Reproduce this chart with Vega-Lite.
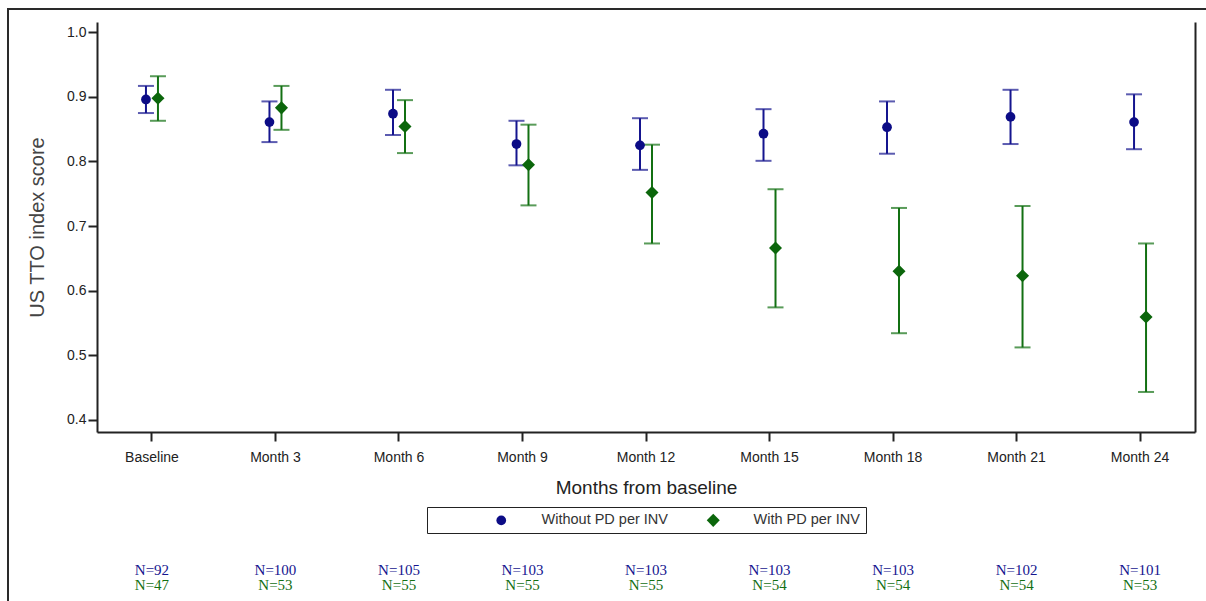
{
  "$schema": "https://vega.github.io/schema/vega-lite/v6.json",
  "width": 1202,
  "height": 596,
  "autosize": {"type": "none"},
  "padding": {"left": 8, "top": 9, "right": -4, "bottom": -4},
  "background": "white",
  "config": {
    "view": {"stroke": "#2a2a2a", "strokeWidth": 2},
    "axis": {
      "grid": false,
      "domainColor": "#222",
      "domainWidth": 2,
      "tickColor": "#222",
      "tickWidth": 2,
      "tickSize": 9,
      "labelFont": "Liberation Sans",
      "labelFontSize": 14,
      "labelColor": "#222",
      "titleFont": "Liberation Sans",
      "titleFontWeight": "normal",
      "titleColor": "#333"
    },
    "legend": {
      "labelFont": "Liberation Sans",
      "labelFontSize": 14.5,
      "labelColor": "#333",
      "symbolStrokeWidth": 0,
      "orient": "none",
      "legendX": 419,
      "legendY": 498,
      "direction": "horizontal",
      "strokeColor": "#222",
      "padding": 6,
      "titleOrient": "left",
      "titleFontSize": 1,
      "titlePadding": 31,
      "symbolOffset": 30,
      "labelOffset": 33,
      "columnPadding": 7
    }
  },
  "data": {
    "values": [
      {"month": "Baseline", "series": "Without PD per INV", "mean": 0.896, "lo": 0.875, "hi": 0.917, "nlabel": "N=92"},
      {"month": "Baseline", "series": "With PD per INV", "mean": 0.898, "lo": 0.863, "hi": 0.932, "nlabel": "N=47"},
      {"month": "Month 3", "series": "Without PD per INV", "mean": 0.861, "lo": 0.830, "hi": 0.893, "nlabel": "N=100"},
      {"month": "Month 3", "series": "With PD per INV", "mean": 0.883, "lo": 0.849, "hi": 0.917, "nlabel": "N=53"},
      {"month": "Month 6", "series": "Without PD per INV", "mean": 0.874, "lo": 0.841, "hi": 0.911, "nlabel": "N=105"},
      {"month": "Month 6", "series": "With PD per INV", "mean": 0.854, "lo": 0.813, "hi": 0.895, "nlabel": "N=55"},
      {"month": "Month 9", "series": "Without PD per INV", "mean": 0.827, "lo": 0.794, "hi": 0.863, "nlabel": "N=103"},
      {"month": "Month 9", "series": "With PD per INV", "mean": 0.795, "lo": 0.732, "hi": 0.857, "nlabel": "N=55"},
      {"month": "Month 12", "series": "Without PD per INV", "mean": 0.825, "lo": 0.787, "hi": 0.867, "nlabel": "N=103"},
      {"month": "Month 12", "series": "With PD per INV", "mean": 0.752, "lo": 0.673, "hi": 0.826, "nlabel": "N=55"},
      {"month": "Month 15", "series": "Without PD per INV", "mean": 0.843, "lo": 0.801, "hi": 0.881, "nlabel": "N=103"},
      {"month": "Month 15", "series": "With PD per INV", "mean": 0.666, "lo": 0.574, "hi": 0.757, "nlabel": "N=54"},
      {"month": "Month 18", "series": "Without PD per INV", "mean": 0.853, "lo": 0.812, "hi": 0.893, "nlabel": "N=103"},
      {"month": "Month 18", "series": "With PD per INV", "mean": 0.630, "lo": 0.534, "hi": 0.728, "nlabel": "N=54"},
      {"month": "Month 21", "series": "Without PD per INV", "mean": 0.869, "lo": 0.827, "hi": 0.911, "nlabel": "N=102"},
      {"month": "Month 21", "series": "With PD per INV", "mean": 0.623, "lo": 0.512, "hi": 0.731, "nlabel": "N=54"},
      {"month": "Month 24", "series": "Without PD per INV", "mean": 0.861, "lo": 0.819, "hi": 0.904, "nlabel": "N=101"},
      {"month": "Month 24", "series": "With PD per INV", "mean": 0.559, "lo": 0.443, "hi": 0.673, "nlabel": "N=53"}
    ]
  },
  "layer": [
    {
      "layer": [
        {
          "mark": {"type": "rule", "strokeWidth": 2},
          "encoding": {
            "x": {
              "field": "month", "type": "ordinal",
              "sort": ["Baseline", "Month 3", "Month 6", "Month 9", "Month 12", "Month 15", "Month 18", "Month 21", "Month 24"],
              "scale": {"type": "band", "range": [89, 1187], "paddingInner": 0.5, "paddingOuter": 0.195},
              "axis": {"title": "Months from baseline", "titleFontSize": 19, "titlePadding": 14, "titleColor": "#222", "labelAngle": 0, "labelPadding": 9, "offset": -173}
            },
            "xOffset": {
              "field": "series", "type": "nominal",
              "scale": {"type": "point", "domain": ["Without PD per INV", "With PD per INV"], "range": [24.875, 36.875], "padding": 0}
            },
            "y": {
              "field": "lo", "type": "quantitative",
              "scale": {"domain": [0.381, 1.016], "range": [423, 13], "nice": false, "zero": false},
              "axis": {"orient": "left", "offset": -89, "values": [0.4, 0.5, 0.6, 0.7, 0.8, 0.9, 1.0], "format": ".1f", "labelPadding": 2, "title": "US TTO index score", "titleFontSize": 20, "titlePadding": 19, "titleColor": "#444"}
            },
            "y2": {"field": "hi"},
            "stroke": {
              "field": "series", "type": "nominal",
              "scale": {"domain": ["With PD per INV", "Without PD per INV"], "range": ["#137013", "#15158f"]},
              "legend": null
            }
          }
        },
        {
          "mark": {"type": "tick", "size": 16, "thickness": 2, "orient": "horizontal"},
          "encoding": {
            "x": {"field": "month", "type": "ordinal", "sort": ["Baseline", "Month 3", "Month 6", "Month 9", "Month 12", "Month 15", "Month 18", "Month 21", "Month 24"]},
            "xOffset": {"field": "series", "type": "nominal"},
            "y": {"field": "hi", "type": "quantitative", "axis": {"orient": "right", "offset": -15, "ticks": false, "labels": false, "title": null, "domain": true}},
            "fill": {"field": "series", "type": "nominal", "scale": {"domain": ["With PD per INV", "Without PD per INV"], "range": ["#137013", "#15158f"]}, "legend": null}
          }
        },
        {
          "mark": {"type": "tick", "size": 16, "thickness": 2, "orient": "horizontal"},
          "encoding": {
            "x": {"field": "month", "type": "ordinal", "sort": ["Baseline", "Month 3", "Month 6", "Month 9", "Month 12", "Month 15", "Month 18", "Month 21", "Month 24"]},
            "xOffset": {"field": "series", "type": "nominal"},
            "y": {"field": "lo", "type": "quantitative", "axis": null},
            "fill": {"field": "series", "type": "nominal", "legend": null}
          }
        },
        {
          "mark": {"type": "point", "filled": true, "opacity": 1},
          "encoding": {
            "x": {"field": "month", "type": "ordinal", "sort": ["Baseline", "Month 3", "Month 6", "Month 9", "Month 12", "Month 15", "Month 18", "Month 21", "Month 24"]},
            "xOffset": {"field": "series", "type": "nominal"},
            "y": {"field": "mean", "type": "quantitative", "axis": null},
            "color": {
              "field": "series", "type": "nominal",
              "scale": {"domain": ["Without PD per INV", "With PD per INV"], "range": ["#0c0c86", "#0b660b"]},
              "legend": {"title": " "}
            },
            "shape": {
              "field": "series", "type": "nominal",
              "scale": {"domain": ["Without PD per INV", "With PD per INV"], "range": ["circle", "diamond"]},
              "legend": {"title": " "}
            },
            "size": {
              "field": "series", "type": "nominal",
              "scale": {"domain": ["Without PD per INV", "With PD per INV"], "range": [95, 170]},
              "legend": {"title": " "}
            }
          }
        }
      ]
    },
    {
      "mark": {"type": "text", "font": "Liberation Serif", "fontSize": 15, "baseline": "middle"},
      "encoding": {
        "x": {"field": "month", "type": "ordinal", "sort": ["Baseline", "Month 3", "Month 6", "Month 9", "Month 12", "Month 15", "Month 18", "Month 21", "Month 24"]},
        "y": {"field": "series", "type": "nominal", "scale": {"type": "point", "domain": ["Without PD per INV", "With PD per INV"], "range": [561, 576], "padding": 0}, "axis": null},
        "text": {"field": "nlabel"},
        "fill": {"field": "series", "type": "nominal", "legend": null}
      }
    }
  ],
  "resolve": {"scale": {"y": "independent"}}
}
